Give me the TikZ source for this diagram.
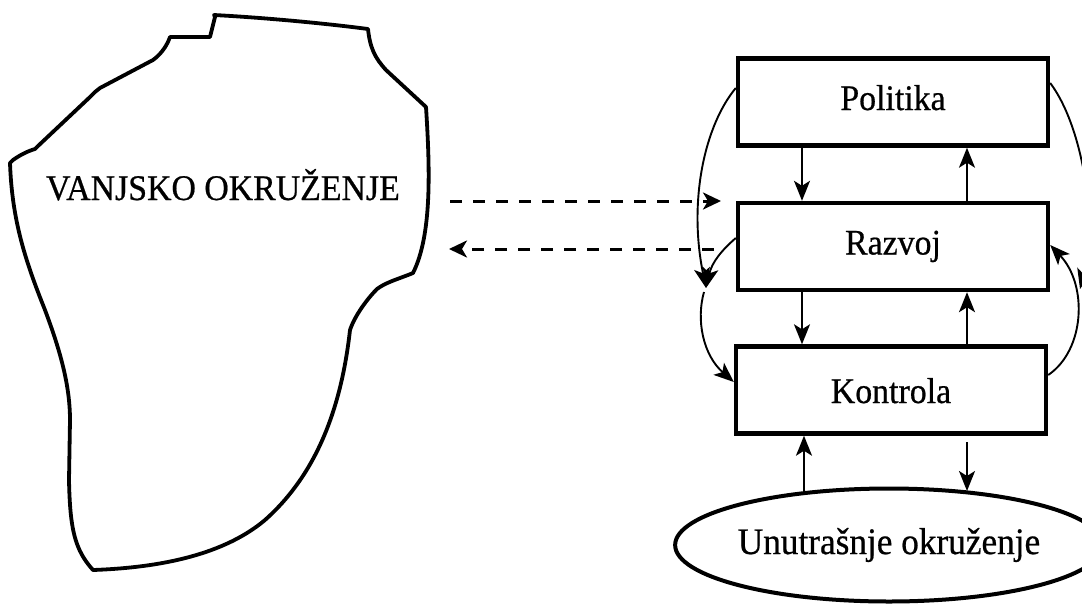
\documentclass[tikz,border=0pt]{standalone}
\usepackage{fontspec}
\setmainfont{Liberation Serif}[FakeStretch=0.94,FakeBold=0.6]
\usetikzlibrary{arrows.meta,shapes.geometric}
\begin{document}
\begin{tikzpicture}[x=1pt,y=-1pt,
  box/.style={draw,line width=4.4pt,minimum width=310pt,minimum height=87pt,inner sep=0pt,
    text height=24pt,text depth=8pt,font=\fontsize{36}{40}\selectfont},
  arr/.style={line width=1.9pt,-{Stealth[length=20pt,width=16pt,inset=5pt]}},
  dasharr/.style={line width=3pt,dash pattern=on 12pt off 11pt,-{Stealth[length=18pt,width=17pt,inset=5pt]}},
  blob/.style={line width=3.8pt,line join=round},
  ]
\clip (0,0) rectangle (1082,606);
% outer environment
\draw[blob] (214,15) .. controls (270,18) and (330,24) .. (368,29)
  .. controls (370,48) and (375,58) .. (386,70) -- (426,107)
  .. controls (430,170) and (432,235) .. (413,273)
  -- (408,275) .. controls (395,280) and (385,283) .. (377,289)
  .. controls (368,298) and (355,315) .. (350,330)
  .. controls (340,420) and (310,480) .. (265,520)
  .. controls (220,558) and (150,568) .. (93,570)
  .. controls (75,550) and (70,530) .. (69,480)
  -- (70,420) .. controls (70,385) and (60,350) .. (45,310)
  .. controls (25,260) and (12,220) .. (10,163)
  -- (13,160) .. controls (20,155) and (28,151) .. (35,149)
  -- (38,146) -- (90,97) -- (95,92) -- (100,88) -- (153,60)
  .. controls (160,55) and (165,48) .. (168,42) -- (170,37) -- (210,37) -- (215,17) -- cycle;
\node[font=\fontsize{36}{40}\selectfont,anchor=base,inner sep=0pt] (van) at (223,200) {VANJSKO OKRUŽENJE};

% boxes
\node[box] (pol) at (893,102) {Politika};
\node[box] (raz) at (893,246.5) {Razvoj};
\node[box,text height=30pt,text depth=4pt] (kon) at (891,390) {Kontrola};
\node[draw,ellipse,line width=4pt,minimum width=380pt,minimum height=113pt,inner sep=0pt,
  font=\fontsize{37.5}{40}\selectfont] (unu) at (889,545) {Unutrašnje okruženje};

% vertical arrows
\coordinate (xl) at (802,0);
\coordinate (xr) at (967,0);
\draw[arr] (pol.south -| xl) -- (raz.north -| xl);
\draw[arr] (raz.north -| xr) -- (pol.south -| xr);
\draw[arr] (raz.south -| xl) -- (kon.north -| xl);
\draw[arr] (kon.north -| xr) -- (raz.south -| xr);
\coordinate (u1) at (804,491);
\draw[arr] (u1) -- (kon.south -| u1);
\coordinate (u2s) at (967,442);
\coordinate (u2) at (967,491);
\draw[arr] (u2s) -- (u2);

% dashed arrows
\coordinate (d1s) at (450,201);
\coordinate (d1e) at (721,201);
\draw[dasharr] (d1s) -- (d1e);
\coordinate (d2s) at (714,249);
\coordinate (d2e) at (449,249);
\draw[dasharr] (d2s) -- (d2e);

% left feedback curves
\coordinate (lm) at (706,288);
\coordinate (ls) at (704,292);
\draw[arr] ([yshift=14pt]pol.west) .. controls (705,125) and (688,200) .. (lm);
\draw[arr] ([yshift=8.5pt]raz.west) .. controls (722,250) and (712,262) .. (lm);
\draw[arr] (ls) .. controls (696,320) and (703,355) .. ([yshift=8pt]kon.west);

% right feedback curves
\coordinate (rm) at (1080,289);
\draw[arr] ([yshift=19pt]pol.east) .. controls (1082,125) and (1098,220) .. (rm);
\draw[arr] ([yshift=15pt]kon.east) .. controls (1085,350) and (1088,285) .. ([yshift=1.5pt]raz.east);
\end{tikzpicture}
\end{document}
